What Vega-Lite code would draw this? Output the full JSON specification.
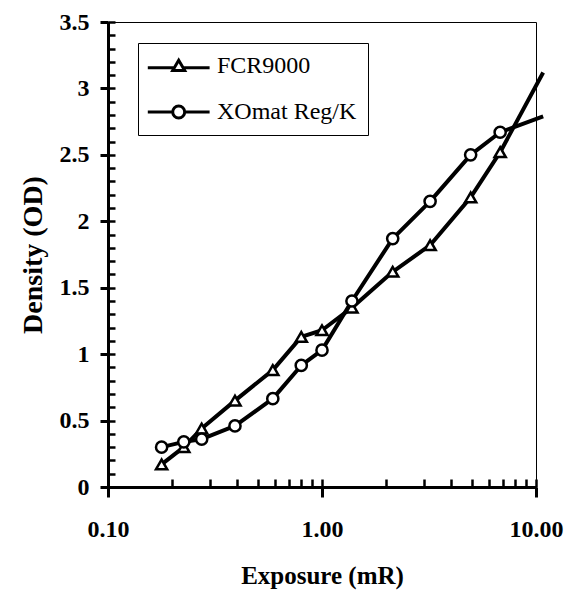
{
  "$schema": "https://vega.github.io/schema/vega-lite/v6.json",
  "width": 428,
  "height": 465,
  "autosize": {"type": "none"},
  "padding": {"left": 108, "top": 22, "right": 31, "bottom": 103},
  "background": "white",
  "config": {
    "view": {"stroke": "black", "strokeWidth": 1},
    "font": "Liberation Serif"
  },
  "data": {
    "values": [
      {"series": "FCR9000", "exposure": 0.178, "density": 0.17},
      {"series": "FCR9000", "exposure": 0.226, "density": 0.30},
      {"series": "FCR9000", "exposure": 0.274, "density": 0.44},
      {"series": "FCR9000", "exposure": 0.392, "density": 0.65},
      {"series": "FCR9000", "exposure": 0.589, "density": 0.88},
      {"series": "FCR9000", "exposure": 0.80, "density": 1.13},
      {"series": "FCR9000", "exposure": 1.0, "density": 1.18},
      {"series": "FCR9000", "exposure": 1.38, "density": 1.35},
      {"series": "FCR9000", "exposure": 2.14, "density": 1.62},
      {"series": "FCR9000", "exposure": 3.2, "density": 1.82},
      {"series": "FCR9000", "exposure": 4.95, "density": 2.18},
      {"series": "FCR9000", "exposure": 6.8, "density": 2.52},
      {"series": "FCR9000", "exposure": 10.8, "density": 3.12},
      {"series": "XOmat Reg/K", "exposure": 0.178, "density": 0.30},
      {"series": "XOmat Reg/K", "exposure": 0.226, "density": 0.34},
      {"series": "XOmat Reg/K", "exposure": 0.274, "density": 0.36},
      {"series": "XOmat Reg/K", "exposure": 0.392, "density": 0.46},
      {"series": "XOmat Reg/K", "exposure": 0.589, "density": 0.665},
      {"series": "XOmat Reg/K", "exposure": 0.80, "density": 0.915},
      {"series": "XOmat Reg/K", "exposure": 1.0, "density": 1.03},
      {"series": "XOmat Reg/K", "exposure": 1.38, "density": 1.40},
      {"series": "XOmat Reg/K", "exposure": 2.14, "density": 1.87},
      {"series": "XOmat Reg/K", "exposure": 3.2, "density": 2.15},
      {"series": "XOmat Reg/K", "exposure": 4.95, "density": 2.50},
      {"series": "XOmat Reg/K", "exposure": 6.8, "density": 2.67},
      {"series": "XOmat Reg/K", "exposure": 10.8, "density": 2.79}
    ]
  },
  "resolve": {"axis": {"x": "independent", "y": "independent"}},
  "layer": [
    {
      "mark": {"type": "line", "color": "black", "strokeWidth": 4, "clip": false, "strokeJoin": "round"},
      "encoding": {
        "x": {
          "field": "exposure", "type": "quantitative",
          "scale": {"type": "log", "domain": [0.1, 10], "nice": false},
          "axis": {
            "orient": "bottom",
            "values": [0.1, 1, 10], "format": ".2f",
            "grid": false, "tickSize": 10, "tickWidth": 3, "tickColor": "black",
            "domainWidth": 3, "domainColor": "black",
            "labelFont": "Liberation Serif", "labelFontWeight": "bold", "labelFontSize": 24,
            "labelColor": "black", "labelPadding": 20, "labelFlush": false, "labelOverlap": false,
            "title": "Exposure (mR)", "titleFont": "Liberation Serif", "titleFontWeight": "bold",
            "titleFontSize": 25, "titleColor": "black", "titlePadding": 22
          }
        },
        "y": {
          "field": "density", "type": "quantitative",
          "scale": {"domain": [0, 3.5], "nice": false, "zero": false},
          "axis": {
            "orient": "left",
            "values": [0, 0.5, 1, 1.5, 2, 2.5, 3, 3.5], "format": "~g",
            "grid": false, "tickSize": 8, "tickWidth": 3, "tickColor": "black",
            "domainWidth": 3, "domainColor": "black",
            "labelFont": "Liberation Serif", "labelFontWeight": "bold", "labelFontSize": 24,
            "labelColor": "black", "labelPadding": 11, "labelFlush": false, "labelOverlap": false,
            "title": "Density (OD)", "titleFont": "Liberation Serif", "titleFontWeight": "bold",
            "titleFontSize": 28, "titleColor": "black", "titlePadding": 12
          }
        },
        "detail": {"field": "series", "type": "nominal"}
      }
    },
    {
      "transform": [{"filter": "datum.exposure <= 10"}],
      "mark": {"type": "point", "filled": true, "fill": "white", "stroke": "black", "strokeWidth": 2.5, "opacity": 1, "clip": false, "size": 125},
      "encoding": {
        "x": {
          "field": "exposure", "type": "quantitative",
          "scale": {"type": "log", "domain": [0.1, 10], "nice": false},
          "axis": {
            "orient": "bottom",
            "values": [0.1, 0.2, 0.3, 0.4, 0.5, 0.6, 0.7, 0.8, 0.9, 1, 2, 3, 4, 5, 6, 7, 8, 9, 10],
            "grid": false, "domain": false, "labels": false, "title": null,
            "tickSize": -8, "tickWidth": 2.5, "tickColor": "black"
          }
        },
        "y": {
          "field": "density", "type": "quantitative",
          "scale": {"domain": [0, 3.5], "nice": false, "zero": false},
          "axis": {
            "orient": "left",
            "values": [0, 0.1, 0.2, 0.3, 0.4, 0.5, 0.6, 0.7, 0.8, 0.9, 1, 1.1, 1.2, 1.3, 1.4, 1.5, 1.6, 1.7, 1.8, 1.9, 2, 2.1, 2.2, 2.3, 2.4, 2.5, 2.6, 2.7, 2.8, 2.9, 3, 3.1, 3.2, 3.3, 3.4, 3.5],
            "grid": false, "domain": false, "labels": false, "title": null,
            "tickSize": -7, "tickWidth": 2.5, "tickColor": "black"
          }
        },
        "shape": {
          "condition": {"test": "datum.series === 'FCR9000'", "value": "triangle-up"},
          "value": "circle"
        }
      }
    },
    {
      "transform": [{"filter": "datum.exposure > 100"}],
      "mark": {"type": "point", "filled": true, "fill": "white", "stroke": "black", "strokeWidth": 3, "opacity": 1, "size": 144},
      "encoding": {
        "shape": {
          "field": "series", "type": "nominal",
          "scale": {"domain": ["FCR9000", "XOmat Reg/K"], "range": ["M-2.2,0.3H2.05M3.85,0.3H8.1M2.95,-0.95L3.95,0.75L1.95,0.75Z", "M-2.2,0H1.95M3.95,0H8.1M3.95,0A1,1 0 1,1 1.95,0A1,1 0 1,1 3.95,0Z"]},
          "legend": {
            "orient": "none", "legendX": 30, "legendY": 21,
            "title": null,
            "strokeColor": "black", "fillColor": "white",
            "padding": 11,
            "labelFont": "Liberation Serif", "labelFontSize": 24, "labelColor": "black",
            "labelOffset": 44,
            "symbolSize": 144, "symbolStrokeWidth": 3,
            "rowPadding": 21
          }
        }
      }
    }
  ]
}
